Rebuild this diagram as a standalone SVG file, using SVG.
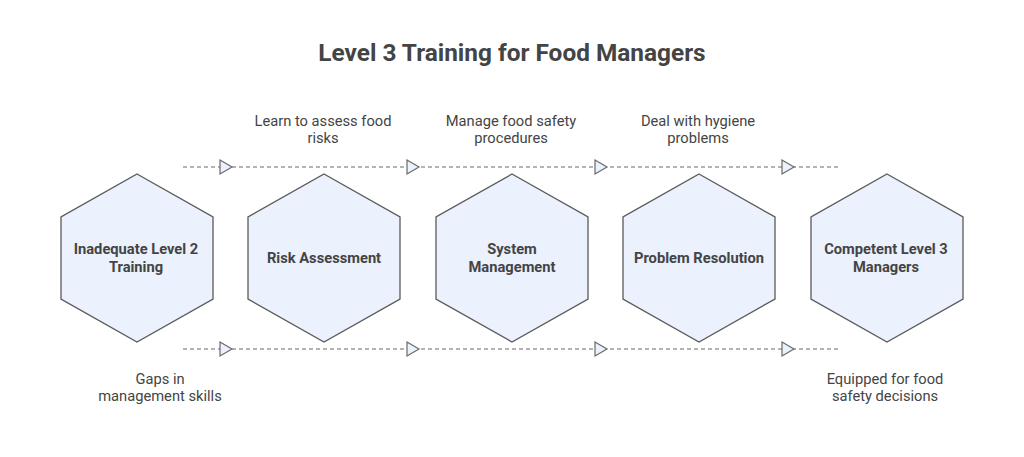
<svg xmlns="http://www.w3.org/2000/svg" width="1024" height="457" viewBox="0 0 1024 457">
<style>
.hex{fill:#ebf1fd;stroke:#5a5a5a;stroke-width:1.3}
.nl{font-family:Roboto,"Liberation Sans",sans-serif;font-weight:bold;font-size:14.7px;fill:#444;text-anchor:middle}
.lb{font-family:Roboto,"Liberation Sans",sans-serif;font-size:14.7px;fill:#444;text-anchor:middle}
.ttl{font-family:Roboto,"Liberation Sans",sans-serif;font-weight:bold;font-size:24.4px;fill:#444;text-anchor:middle}
.dl{stroke:#6a6a6a;stroke-width:1.2;stroke-dasharray:4 3;fill:none}
.ah{fill:#ebf1fd;stroke:#6a6a6a;stroke-width:1.2}
</style>
<defs>
<polygon id="hexshape" class="hex" points="0,-84 76,-41 76,41 0,84 -76,41 -76,-41"/>
<polygon id="tri" class="ah" points="-6,-7 6,0 -6,7"/>
</defs>
<rect width="1024" height="457" fill="#fff"/>
<text class="ttl" x="512" y="61">Level 3 Training for Food Managers</text>
<g id="connectors">
<line class="dl" x1="183" y1="167" x2="840" y2="167"/>
<line class="dl" x1="183" y1="349" x2="840" y2="349"/>
<use href="#tri" x="226" y="167"/>
<use href="#tri" x="413" y="167"/>
<use href="#tri" x="601" y="167"/>
<use href="#tri" x="788" y="167"/>
<use href="#tri" x="226" y="349"/>
<use href="#tri" x="413" y="349"/>
<use href="#tri" x="601" y="349"/>
<use href="#tri" x="788" y="349"/>
</g>
<g id="label-top-1"><text class="lb" x="323" y="126">Learn to assess food</text><text class="lb" x="323" y="143">risks</text></g>
<g id="label-top-2"><text class="lb" x="511" y="126">Manage food safety</text><text class="lb" x="511" y="143">procedures</text></g>
<g id="label-top-3"><text class="lb" x="698" y="126">Deal with hygiene</text><text class="lb" x="698" y="143">problems</text></g>
<g id="label-bottom-1"><text class="lb" x="160" y="384">Gaps in</text><text class="lb" x="160" y="401">management skills</text></g>
<g id="label-bottom-2"><text class="lb" x="885" y="384">Equipped for food</text><text class="lb" x="885" y="401">safety decisions</text></g>
<g id="node-1"><use href="#hexshape" x="137" y="258"/><text class="nl" x="136" y="254">Inadequate Level 2</text><text class="nl" x="136" y="272">Training</text></g>
<g id="node-2"><use href="#hexshape" x="324" y="258"/><text class="nl" x="324" y="263">Risk Assessment</text></g>
<g id="node-3"><use href="#hexshape" x="512" y="258"/><text class="nl" x="512" y="254">System</text><text class="nl" x="512" y="272">Management</text></g>
<g id="node-4"><use href="#hexshape" x="699" y="258"/><text class="nl" x="699" y="263">Problem Resolution</text></g>
<g id="node-5"><use href="#hexshape" x="887" y="258"/><text class="nl" x="886" y="254">Competent Level 3</text><text class="nl" x="886" y="272">Managers</text></g>
</svg>
